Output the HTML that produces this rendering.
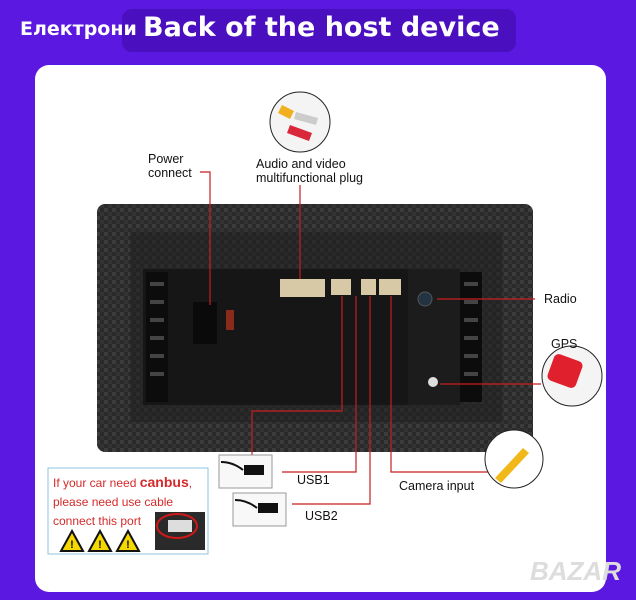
<!DOCTYPE html>
<html><head><meta charset="utf-8"><style>
html,body{margin:0;padding:0}
body{width:636px;height:600px;background:#5b18e0;position:relative;overflow:hidden;font-family:"Liberation Sans",sans-serif}
.a{position:absolute}
.t{font-size:12.5px;color:#111;line-height:14px}
</style></head><body>
<div class="a" style="left:122px;top:9px;width:394px;height:43px;background:#4a0fbe;border-radius:10px"></div>
<div class="a" style="left:20px;top:18px;font-size:19px;font-weight:bold;color:#fff;font-family:'DejaVu Sans',sans-serif">Електрони</div>
<div class="a" style="left:143px;top:12px;font-size:27px;font-weight:bold;color:#fff;font-family:'DejaVu Sans',sans-serif">Back of the host device</div>
<div class="a" style="left:35px;top:65px;width:571px;height:527px;background:#fff;border-radius:14px"></div>

<svg class="a" style="left:0;top:0" width="636" height="600">
<defs>
<pattern id="cf" width="8" height="8" patternUnits="userSpaceOnUse">
<rect width="8" height="8" fill="#2a2a2a"/><rect width="4" height="4" fill="#3c3c3c"/><rect x="4" y="4" width="4" height="4" fill="#333"/>
</pattern>
</defs>
<rect x="97" y="204" width="436" height="248" rx="8" fill="url(#cf)"/>
<rect x="130" y="232" width="372" height="190" fill="#222" opacity=".6"/>
<rect x="143" y="269" width="265" height="136" fill="#161616"/>
<rect x="408" y="269" width="52" height="136" fill="#1c1c1c"/>
<g fill="#0c0c0c">
<rect x="146" y="272" width="22" height="130"/><rect x="460" y="272" width="22" height="130"/>
</g>
<g fill="#444">
<rect x="150" y="282" width="14" height="4"/><rect x="150" y="300" width="14" height="4"/><rect x="150" y="318" width="14" height="4"/><rect x="150" y="336" width="14" height="4"/><rect x="150" y="354" width="14" height="4"/><rect x="150" y="372" width="14" height="4"/>
<rect x="464" y="282" width="14" height="4"/><rect x="464" y="300" width="14" height="4"/><rect x="464" y="318" width="14" height="4"/><rect x="464" y="336" width="14" height="4"/><rect x="464" y="354" width="14" height="4"/><rect x="464" y="372" width="14" height="4"/>
</g>
<rect x="193" y="302" width="24" height="42" fill="#0a0a0a"/>
<rect x="226" y="310" width="8" height="20" fill="#8a2a1a"/>
<rect x="280" y="279" width="45" height="18" fill="#d8c9a6"/>
<rect x="331" y="279" width="20" height="16" fill="#d8c9a6"/>
<rect x="361" y="279" width="15" height="16" fill="#d8c9a6"/>
<rect x="379" y="279" width="22" height="16" fill="#d8c9a6"/>
<circle cx="425" cy="299" r="7" fill="#234" stroke="#555"/>
<circle cx="433" cy="382" r="5" fill="#ddd"/>
<g stroke="#c81e1e" stroke-width="1.2" fill="none">
<polyline points="200,172 210,172 210,305"/>
<line x1="300" y1="185" x2="300" y2="279"/>
<polyline points="342,296 342,411 252,411 252,467"/>
<polyline points="356,296 356,472 282,472"/>
<polyline points="370,296 370,504 292,504"/>
<polyline points="391,296 391,472 490,472"/>
<line x1="437" y1="299" x2="535" y2="299"/>
<line x1="440" y1="384" x2="541" y2="384"/>
</g>
<circle cx="300" cy="122" r="30" fill="#f4f4f4" stroke="#222"/>
<path d="M282 105 l12 6 l-4 8 l-12 -6z" fill="#f0b020"/>
<path d="M290 125 l22 8 l-3 8 l-22 -8z" fill="#d8283a"/>
<path d="M296 112 l22 6 l-2 7 l-22 -6z" fill="#ccc"/>
<circle cx="572" cy="376" r="30" fill="#f4f4f4" stroke="#222"/>
<rect x="550" y="357" width="30" height="28" rx="5" fill="#e0202c" transform="rotate(20 565 371)"/>
<circle cx="514" cy="459" r="29" fill="#fff" stroke="#222"/>
<path d="M495 478 l28 -30 l6 5 l-28 30z" fill="#f0b818"/>
<rect x="219" y="455" width="53" height="33" fill="#f8f8f8" stroke="#999"/>
<path d="M221 462 q12 0 22 8" stroke="#111" stroke-width="2" fill="none"/><rect x="244" y="465" width="20" height="10" fill="#111"/>
<rect x="233" y="493" width="53" height="33" fill="#f8f8f8" stroke="#999"/>
<path d="M235 500 q12 0 22 8" stroke="#111" stroke-width="2" fill="none"/><rect x="258" y="503" width="20" height="10" fill="#111"/>
<rect x="48" y="468" width="160" height="86" fill="#fff" stroke="#8cc4dc"/>
<rect x="155" y="512" width="50" height="38" fill="#2a2a2a"/>
<rect x="168" y="520" width="24" height="12" fill="#ddd"/>
<ellipse cx="177" cy="526" rx="20" ry="12" fill="none" stroke="#d01818" stroke-width="2"/>
<g fill="#f4d800" stroke="#111" stroke-width="2">
<polygon points="72,531 61,551 83,551"/><polygon points="100,531 89,551 111,551"/><polygon points="128,531 117,551 139,551"/>
</g>
<g fill="#111" font-family="Liberation Sans" font-size="11" font-weight="bold" text-anchor="middle">
<text x="72" y="548">!</text><text x="100" y="548">!</text><text x="128" y="548">!</text></g>
</svg>
<div class="a t" style="left:148px;top:152px">Power<br>connect</div>
<div class="a t" style="left:256px;top:157px">Audio and video<br>multifunctional plug</div>
<div class="a t" style="left:544px;top:292px">Radio</div>
<div class="a t" style="left:551px;top:337px">GPS</div>
<div class="a t" style="left:297px;top:473px">USB1</div>
<div class="a t" style="left:305px;top:509px">USB2</div>
<div class="a t" style="left:399px;top:479px">Camera input</div>
<div class="a" style="left:53px;top:473px;font-size:12px;line-height:19px;color:#d42a2a">If your car need <b style="font-size:14px">canbus</b>,<br>please need use cable<br>connect this port</div>
<div class="a" style="left:530px;top:556px;font-size:26px;font-weight:bold;color:#ddd;font-style:italic">BAZAR</div>
</body></html>
